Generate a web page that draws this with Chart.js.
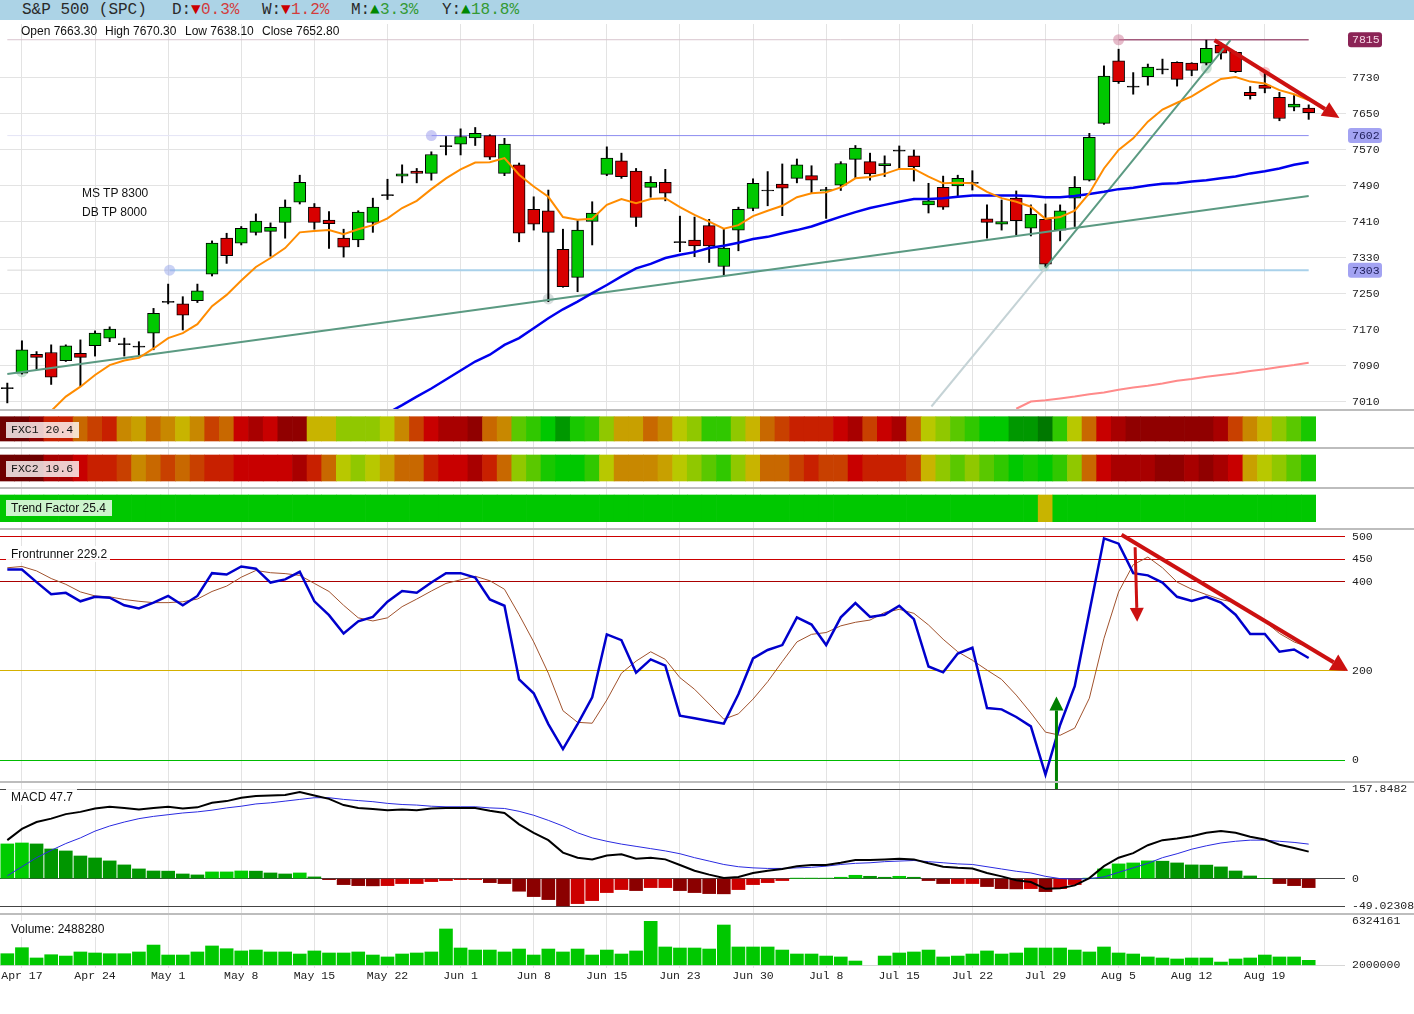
<!DOCTYPE html>
<html>
<head>
<meta charset="utf-8">
<script src="https://cdn.jsdelivr.net/npm/chart.js@4.4.1/dist/chart.umd.min.js"></script>
<style>
  body { margin: 0; width: 1414px; height: 1014px; background: #fff; position: relative; overflow: hidden;
         font-family: 'Liberation Sans', Arial, sans-serif; }
  canvas { position: absolute; left: 0; display: block; }
  .ov { position: absolute; z-index: 3; white-space: pre; }
  .mono { font-family: 'Liberation Mono', 'DejaVu Sans Mono', monospace; }
  #hdr { position: absolute; left: 0; top: 0; width: 1414px; height: 20px; background: #acd3e6; z-index: 3; }
  #hdr span { position: absolute; top: 0; line-height: 20px; font-size: 16px; color: #2a2a2a; }
  #hdr .dn { color: #cc0000; }
  #hdr .dnv { color: #d23c3c; }
  #hdr .up { color: #008800; }
  #hdr .upv { color: #339933; }
  .sep { position: absolute; left: 0; width: 1414px; height: 2px; background: #bdbdbd; z-index: 3; }
  .txt { font-size: 12px; color: #111; line-height: 14px; }
  .box { font-size: 12px; line-height: 16px; height: 16px; padding-left: 5px; color: #111; }
</style>
</head>
<body>

<div id="hdr" class="mono">
  <span style="left:22px">S&amp;P 500 (SPC)</span>
  <span style="left:172px">D:</span><span class="dn" style="left:191px">▼</span><span class="dnv" style="left:201px">0.3%</span>
  <span style="left:262px">W:</span><span class="dn" style="left:281px">▼</span><span class="dnv" style="left:291px">1.2%</span>
  <span style="left:351px">M:</span><span class="up" style="left:370px">▲</span><span class="upv" style="left:380px">3.3%</span>
  <span style="left:442px">Y:</span><span class="up" style="left:461px">▲</span><span class="upv" style="left:471px">18.8%</span>
</div>

<div class="ov txt" style="left:21px;top:24px">Open 7663.30</div>
<div class="ov txt" style="left:105px;top:24px">High 7670.30</div>
<div class="ov txt" style="left:185px;top:24px">Low 7638.10</div>
<div class="ov txt" style="left:262px;top:24px">Close 7652.80</div>
<div class="ov txt" style="left:82px;top:186px">MS TP 8300</div>
<div class="ov txt" style="left:82px;top:205px">DB TP 8000</div>

<div class="sep" style="top:409px"></div>
<div class="sep" style="top:447px"></div>
<div class="sep" style="top:487px"></div>
<div class="sep" style="top:528px"></div>
<div class="sep" style="top:781px"></div>
<div class="sep" style="top:913px"></div>

<div class="ov box mono" style="left:6px;top:422px;width:68px;font-size:11.5px;background:rgba(255,255,255,0.8)">FXC1 20.4</div>
<div class="ov box mono" style="left:6px;top:461px;width:68px;font-size:11.5px;background:rgba(255,255,255,0.8)">FXC2 19.6</div>
<div class="ov box" style="left:6px;top:500px;width:101px;background:rgba(255,255,255,0.8)">Trend Factor 25.4</div>
<div class="ov box" style="left:6px;top:546px;width:99px;background:rgba(255,255,255,0.92)">Frontrunner 229.2</div>
<div class="ov box" style="left:6px;top:789px;width:66px;background:rgba(255,255,255,0.92)">MACD 47.7</div>
<div class="ov box" style="left:6px;top:921px;width:101px;background:rgba(255,255,255,0.92)">Volume: 2488280</div>

<canvas id="cPrice" width="1414" height="386" style="top:24px"></canvas>
<canvas id="cStrip" width="1414" height="118" style="top:410px"></canvas>
<canvas id="cFr" width="1414" height="264" style="top:528px"></canvas>
<canvas id="cMacd" width="1414" height="131" style="top:782px"></canvas>
<canvas id="cVol" width="1414" height="77" style="top:913px"></canvas>

<script>
// ---- data (one entry per trading day) ----
const opens = [7041,7074,7116,7120,7102,7118,7135,7152,7138,7133,
  7163,7233,7228,7235,7294,7374,7363,7387,7389,7409,
  7454,7443,7414,7374,7370,7409,7470,7512,7523,7518,
  7579,7583,7597,7602,7518,7537,7438,7435,7349,7287,
  7411,7516,7546,7523,7487,7498,7365,7370,7402,7311,
  7392,7440,7480,7494,7507,7513,7479,7492,7549,7544,
  7535,7568,7557,7448,7487,7490,7497,7417,7405,7463,
  7396,7416,7392,7463,7503,7629,7768,7711,7733,7749,
  7765,7763,7763,7803,7787,7698,7714,7687,7665,7663.3];
const highs = [7052,7146,7122,7137,7137,7148,7168,7177,7152,7144,
  7218,7272,7244,7272,7368,7385,7400,7428,7408,7459,
  7514,7451,7433,7394,7435,7463,7505,7537,7529,7566,
  7600,7617,7620,7604,7596,7541,7466,7481,7394,7413,
  7455,7577,7563,7529,7511,7527,7423,7421,7416,7394,
  7443,7506,7522,7539,7550,7535,7487,7544,7580,7563,
  7557,7579,7570,7496,7512,7514,7524,7448,7459,7479,
  7448,7450,7448,7511,7607,7757,7794,7742,7761,7772,
  7766,7764,7814,7808,7789,7711,7742,7698,7691,7670.3];
const lows = [7008,7072,7083,7049,7100,7044,7112,7144,7112,7112,
  7126,7228,7170,7231,7290,7318,7359,7381,7334,7374,
  7450,7394,7351,7332,7355,7387,7460,7497,7497,7503,
  7559,7559,7580,7549,7513,7366,7392,7233,7265,7255,
  7359,7513,7507,7400,7465,7457,7344,7333,7320,7292,
  7346,7435,7446,7424,7497,7475,7418,7480,7507,7503,
  7511,7529,7501,7430,7438,7468,7481,7374,7392,7381,
  7379,7311,7368,7400,7501,7627,7718,7694,7714,7739,
  7712,7735,7759,7772,7742,7683,7697,7635,7657,7638.1];
const closes = [7041,7126,7109,7065,7135,7109,7163,7172,7139,7133,
  7207,7232,7203,7257,7363,7335,7396,7412,7398,7443,
  7498,7409,7406,7354,7432,7443,7469,7517,7518,7560,
  7578,7600,7607,7554,7583,7385,7405,7387,7266,7392,
  7430,7552,7511,7420,7498,7474,7365,7357,7357,7352,
  7438,7496,7480,7485,7537,7503,7482,7540,7574,7517,
  7540,7569,7533,7457,7443,7507,7497,7409,7411,7413,
  7427,7316,7435,7487,7598,7734,7722,7711,7754,7749,
  7727,7747,7796,7785,7744,7691,7707,7640,7672,7652.8];
const ema = [null,null,null,6990,7022,7044,7070,7092,7102,7108,
  7129,7152,7163,7183,7223,7248,7280,7310,7330,7352,
  7387,7390,7392,7383,7394,7403,7418,7441,7457,7483,
  7507,7527,7542,7543,7552,7515,7489,7466,7421,7415,
  7417,7448,7461,7452,7461,7463,7443,7426,7411,7395,
  7403,7423,7435,7446,7465,7474,7476,7487,7507,7510,
  7517,7528,7528,7511,7496,7497,7496,7477,7463,7455,
  7444,7417,7421,7435,7474,7529,7570,7596,7633,7660,
  7675,7689,7709,7728,7732,7722,7718,7703,7694,7681];
const sma50 = [null,null,null,null,null,null,null,null,null,null,
  null,null,null,null,null,null,null,null,null,null,
  null,null,null,null,null,null,6985,7003,7022,7040,
  7060,7080,7100,7115,7137,7152,7174,7196,7216,7233,
  7252,7270,7289,7307,7317,7330,7337,7343,7352,7357,
  7364,7372,7377,7385,7392,7400,7411,7422,7432,7441,
  7448,7455,7461,7461,7463,7466,7469,7469,7469,7469,
  7468,7465,7465,7468,7472,7477,7483,7486,7491,7495,
  7496,7500,7503,7507,7511,7518,7523,7529,7537,7543];
const sma200 = [null,null,null,null,null,null,null,null,null,null,
  null,null,null,null,null,null,null,null,null,null,
  null,null,null,null,null,null,null,null,null,null,
  null,null,null,null,null,null,null,null,null,null,
  null,null,null,null,null,null,null,null,null,null,
  null,null,null,null,null,null,null,null,null,null,
  null,null,null,null,null,null,null,null,null,6995,
  7011,7014,7018,7022,7027,7031,7037,7042,7046,7051,
  7057,7061,7066,7070,7074,7079,7083,7088,7092,7097];
const trendLine = [[0, 7072], [89, 7468]];
const riseLine = [[63.2, 7000], [71, 7308], [83.65, 7814]];
const priceLevels = [7815, 7602, 7303];
const levelFrom = [76, 29, 11.1];
const pivotX = [1, 11.1, 29, 37, 70.9, 76, 82, 86];
const pivotY = [7077, 7303, 7602, 7239, 7312, 7815, 7752, 7743];
const priceTicks = [7010, 7090, 7170, 7250, 7330, 7410, 7490, 7570, 7650, 7730];
const priceArrow = [82.56, 7814, 91.1, 7641];

const fxc1 = [0,0,1,4,4,6,5,4,7,8, 6,7,9,7,5,6,3,2,3,1, 1,9,9,11,11,11,10,7,5,3,
  2,2,1,6,7,12,13,15,16,14, 13,11,8,8,6,7,10,11,13,13, 11,9,6,5,4,4,4,3,2,5,
  3,2,6,10,11,12,13,15,15,16, 16,17,13,10,6,3,2,1,1,1, 1,1,1,2,5,7,9,11,12,14];
const fxc2 = [0,0,0,2,2,3,4,4,5,7, 6,5,6,5,4,4,3,3,3,3, 2,4,6,10,11,10,8,6,6,4,
  3,3,2,4,6,11,12,14,15,15, 13,10,7,7,7,8,10,11,12,13, 11,9,6,6,5,4,5,5,3,4,
  4,4,5,9,11,12,11,12,13,15, 14,15,13,11,6,3,2,2,2,1, 1,2,1,2,3,8,10,11,12,14];
const trendF = [15,15,15,15,15,15,15,15,15,15, 15,15,15,15,15,15,15,15,15,15, 15,15,15,15,15,15,15,15,15,15,
  15,15,15,15,15,15,15,15,15,15, 15,15,15,15,15,15,15,15,15,15, 15,15,15,15,15,15,15,15,15,15,
  15,15,15,15,15,15,15,15,15,15, 15,9,15,15,15,15,15,15,15,15, 15,15,15,15,15,15,15,15,15,15];

const frFast = [427,427,399,372,375,356,366,364,347,340, 353,368,347,368,419,416,434,429,398,405,
  422,356,325,284,311,321,355,379,375,398, 419,419,409,360,346,181,150,81,25,81,
  141,282,269,196,226,212,100,94,88,82, 148,228,247,258,320,304,258,320,352,321,
  326,346,316,210,197,239,252,117,114,97, 76,-32,79,166,332,497,485,419,414,398,
  366,357,366,353,326,283,283,243,248,229];
const frSlow = [431,434,424,407,394,377,368,366,360,356, 353,353,355,361,378,390,410,425,420,418,
  414,396,378,347,319,312,319,344,361,379, 396,404,412,402,383,326,265,195,111,85,
  83,135,195,222,243,226,185,159,126,92, 104,137,176,221,265,282,286,301,309,314,
  331,338,329,303,271,243,224,202,181,146, 106,63,56,72,139,273,377,438,455,431,
  399,383,371,360,353,332,311,284,265,253];
const frTicks = [0, 200, 400, 450, 500];
const frArrows = [[76.2, 505, 91.7, 200], [77.13, 477, 77.27, 310], [71.75, -66, 71.75, 143]];

const macdLine = [68,88,100,106,114,118,124,127,125,122, 125,127,124,126,134,137,143,146,147,148,
  153,147,141,130,125,123,121,122,121,124, 125,125,125,120,116,96,81,68,46,37,
  34,41,43,35,37,34,24,14,7,1, 3,10,14,17,22,24,24,28,33,33,
  34,35,34,27,21,19,18,10,4,-3, -6,-18,-17,-12,1,22,37,45,59,68,
  71,75,81,84,81,74,69,60,54,47.7];
const macdSignal = [5,21,37,50,62,72,84,93,100,106, 110,113,116,118,121,125,128,132,134,137,
  140,143,143,140,138,136,133,131,130,128, 127,127,127,125,124,119,112,103,93,81,
  72,66,61,57,53,49,44,37,31,25, 21,19,18,18,19,20,22,25,27,28,
  30,31,32,30,28,26,25,21,17,13, 10,4,0,-1,0,3,11,19,27,37,
  44,52,58,63,66,68,68,66,64,61];
const macdHist = [61.3,63,61.3,52.4,48.9,40,36.5,31.3,24.2,17.1, 13.5,13.2,8.2,6.5,11.8,11.8,13.5,13.2,10,8.2,
  10,3,-1.8,-10.6,-12.4,-12.8,-12.4,-8.8,-8.8,-5.3, -3.5,-1.8,-1.8,-7.1,-8.8,-22.3,-31.8,-37.1,-48.2,-44.2,
  -38.9,-24.7,-19.4,-21.2,-15.9,-15.9,-21.2,-24.7,-26.5,-26.9, -19.4,-10.6,-7.1,-3.5,0.5,0.5,0.6,2.4,5.9,4.1,
  2.4,4.1,2.4,-3.5,-8.8,-8.8,-8.8,-14.1,-17.7,-18.2, -17.7,-23,-17.7,-10.6,0.3,17.1,26,27.7,31.3,30.8,
  27.7,24.2,23.9,20.7,13.5,4.7,0,-8.8,-12.4,-15.9];
const macdTicks = [-49.02308, 0, 157.8482];

const volume = [3140000,3730000,2720000,3040000,2910000,3310000,3210000,3140000,3140000,3310000,
  3990000,3010000,3010000,3310000,3900000,3630000,3410000,3500000,3310000,3310000,
  3110000,3410000,3210000,3210000,3310000,3010000,2820000,3110000,3210000,3310000,
  5570000,3700000,3500000,3500000,3310000,3600000,3010000,3600000,3310000,3600000,
  3010000,3500000,3110000,3410000,6324161,3800000,3700000,3700000,3600000,5960000,
  3800000,3800000,3800000,3500000,3110000,3110000,2910000,2820000,2420000,null,
  2910000,3210000,3310000,3500000,2820000,2910000,3110000,3410000,3110000,3210000,
  3700000,3700000,3700000,3500000,3310000,3800000,3210000,3110000,2820000,2720000,
  2620000,2720000,2720000,2320000,2620000,2720000,3010000,2820000,2820000,2488280];
const volTicks = [2000000, 6324161];

const dateLabels = ['Apr 17','Apr 24','May 1','May 8','May 15','May 22','Jun 1','Jun 8','Jun 15',
  'Jun 23','Jun 30','Jul 8','Jul 15','Jul 22','Jul 29','Aug 5','Aug 12','Aug 19'];
const gridIdx = [1,6,11,16,21,26,31,36,41,46,51,56,61,66,71,76,81,86];

// ---- styles ----
const heatColors = ['#6e0000','#900000','#a80000','#c80000','#c82000','#c84000','#c86800','#c88800',
  '#c8a000','#c8b400','#b8c800','#90c800','#5ac800','#30c800','#18c800','#00c800','#009800','#007800'];
const levelFaint = ['#d8c4ce', '#e4e4f6', '#d9d9d9'];
const levelMain = ['#a25a7c', '#8c8cf0', '#a9d1ea'];
const levelWidth = [1.5, 1, 2];
const badgeFill = ['#8b2456', '#a3a3f2', '#a3a3f2'];
const badgeText = ['#f6d6e4', '#1e1e5a', '#1e1e5a'];
const pivotColor = ['rgba(150,200,170,0.5)','rgba(150,165,235,0.5)','rgba(150,150,235,0.5)','rgba(175,190,190,0.5)',
  'rgba(150,200,170,0.5)','rgba(205,120,150,0.5)','rgba(150,200,170,0.5)','rgba(240,140,150,0.5)'];
const frLineColor = { 0: '#00bb00', 200: '#d4b000', 400: '#aa0000', 450: '#cc0000', 500: '#cc0000' };

Chart.defaults.font.family = "'Liberation Sans', Arial, sans-serif";
Chart.defaults.animation = false;
Chart.defaults.responsive = false;
Chart.defaults.layout.autoPadding = false;
Chart.defaults.layout.padding = 0;
Chart.defaults.plugins.legend.display = false;
Chart.defaults.plugins.tooltip.enabled = false;
Chart.defaults.elements.point.radius = 0;
Chart.defaults.elements.line.tension = 0;

const AXIS_FONT = { family: "'Liberation Mono', 'DejaVu Sans Mono', monospace", size: 11.5 };
const pts = arr => arr.map((v, i) => ({ x: i, y: v }));

function xAxis(withLabels) {
  return {
    type: 'linear', min: -0.5, max: 89.5, offset: false, bounds: 'data',
    afterBuildTicks: s => { s.ticks = gridIdx.map(v => ({ value: v })); },
    afterFit: s => { s.paddingLeft = 0; s.paddingRight = 0; s.height = withLabels ? 22 : 0; },
    grid: { color: '#e3e3e3', offset: false, drawTicks: false },
    border: { display: false },
    ticks: { display: withLabels, autoSkip: false, maxRotation: 0, padding: 1, color: '#222', font: AXIS_FONT,
      callback: v => dateLabels[gridIdx.indexOf(v)] }
  };
}

function yAxis(min, max, tickVals, gridColor, tickLen) {
  return {
    type: 'linear', position: 'right', min: min, max: max, bounds: 'data',
    afterBuildTicks: s => { s.ticks = tickVals.map(v => ({ value: v })); },
    afterFit: s => { s.width = 98; s.paddingTop = 0; s.paddingBottom = 0; },
    border: { display: false },
    grid: { color: gridColor, tickLength: tickLen, drawTicks: true },
    ticks: { padding: 36 - tickLen, color: '#222', font: AXIS_FONT, autoSkip: false, callback: v => String(v) }
  };
}

function arrowPlugin(list, style) {
  return {
    id: 'arrows',
    afterDatasetsDraw(chart) {
      const { ctx, scales: { x, y } } = chart;
      list.forEach((a, k) => {
        const st = style[k];
        const x0 = x.getPixelForValue(a[0]), y0 = y.getPixelForValue(a[1]);
        const x1 = x.getPixelForValue(a[2]), y1 = y.getPixelForValue(a[3]);
        const ang = Math.atan2(y1 - y0, x1 - x0);
        const bx = x1 - st.head * Math.cos(ang), by = y1 - st.head * Math.sin(ang);
        ctx.save();
        ctx.strokeStyle = st.color; ctx.fillStyle = st.color; ctx.lineWidth = st.width;
        ctx.beginPath(); ctx.moveTo(x0, y0); ctx.lineTo(bx, by); ctx.stroke();
        ctx.beginPath(); ctx.moveTo(x1, y1);
        ctx.lineTo(bx + st.half * Math.sin(ang), by - st.half * Math.cos(ang));
        ctx.lineTo(bx - st.half * Math.sin(ang), by + st.half * Math.cos(ang));
        ctx.closePath(); ctx.fill();
        ctx.restore();
      });
    }
  };
}

// price badges on the right axis
const badgePlugin = {
  id: 'badges',
  afterDraw(chart) {
    const { ctx, scales: { y }, chartArea } = chart;
    ctx.save();
    ctx.font = "11.5px 'Liberation Mono', 'DejaVu Sans Mono', monospace";
    ctx.textBaseline = 'middle';
    priceLevels.forEach((v, k) => {
      const py = y.getPixelForValue(v);
      const bx = chartArea.right + 32, w = 34, h = 15;
      ctx.fillStyle = badgeFill[k];
      ctx.beginPath();
      ctx.roundRect(bx, py - h / 2, w, h, 3);
      ctx.fill();
      ctx.fillStyle = badgeText[k];
      ctx.fillText(String(v), chartArea.right + 36, py + 0.5);
    });
    ctx.restore();
  }
};

// ---- price panel ----
const isDoji = i => Math.abs(closes[i] - opens[i]) < 2.5;
const bodies = opens.map((o, i) => {
  const c = closes[i];
  if (isDoji(i)) { const m = (o + c) / 2; return { x: i, y: [m - 1.2, m + 1.2] }; }
  return { x: i, y: [Math.min(o, c), Math.max(o, c)] };
});
const bodyColors = opens.map((o, i) => isDoji(i) ? '#000' : (closes[i] > o ? '#00c800' : '#d80000'));
const wicks = opens.map((o, i) => ({ x: i, y: [lows[i], highs[i]] }));

const levelSets = [];
priceLevels.forEach((v, k) => {
  levelSets.push({ type: 'line', data: [{ x: 0, y: v }, { x: levelFrom[k], y: v }], borderColor: levelFaint[k], borderWidth: 1, order: 4 });
  levelSets.push({ type: 'line', data: [{ x: levelFrom[k], y: v }, { x: 89, y: v }], borderColor: levelMain[k], borderWidth: levelWidth[k], order: 4 });
});

new Chart(document.getElementById('cPrice'), {
  type: 'line',
  data: {
    datasets: [
      { data: pts(ema), borderColor: '#ff8c00', borderWidth: 2, order: 0 },
      { data: pts(sma50), borderColor: '#0000ee', borderWidth: 2.5, order: 0 },
      { data: trendLine.map(p => ({ x: p[0], y: p[1] })), borderColor: '#5b9a82', borderWidth: 2, order: 0 },
      { data: riseLine.slice(1).map(p => ({ x: p[0], y: p[1] })), borderColor: '#5b9a82', borderWidth: 2, order: 0 },
      { data: riseLine.slice(0, 2).map(p => ({ x: p[0], y: p[1] })), borderColor: '#c5d3d6', borderWidth: 2, order: 0 },
      { type: 'bar', data: bodies, backgroundColor: bodyColors, borderColor: '#000', borderWidth: 1,
        borderSkipped: false, barThickness: 12, grouped: false, order: 1 },
      { type: 'bar', data: wicks, backgroundColor: '#000', borderWidth: 0, barThickness: 1.3, grouped: false, order: 2 },
      { data: pts(sma200), borderColor: '#ff8a8a', borderWidth: 2, order: 3 },
      { data: pivotX.map((x, k) => ({ x: x, y: pivotY[k] })), showLine: false, pointRadius: 5.5,
        pointBackgroundColor: pivotColor, pointBorderWidth: 0, order: 3 },
      ...levelSets
    ]
  },
  options: {
    scales: {
      x: xAxis(false),
      y: yAxis(6992.2, 7850, priceTicks, '#e3e3e3', 30)
    }
  },
  plugins: [badgePlugin, arrowPlugin([priceArrow], [{ color: '#cc1111', width: 4, head: 17, half: 8 }])]
});

// ---- heat strips ----
const stripSet = (vals, lo, hi) => ({
  data: vals.map((v, i) => ({ x: i, y: [lo, hi] })),
  backgroundColor: vals.map(v => heatColors[v]),
  borderWidth: 0, barPercentage: 1, categoryPercentage: 1, grouped: false
});
new Chart(document.getElementById('cStrip'), {
  type: 'bar',
  data: { datasets: [stripSet(fxc1, 6.7, 31), stripSet(fxc2, 45, 71), stripSet(trendF, 85, 111.7)] },
  options: {
    scales: {
      x: xAxis(false),
      y: { type: 'linear', position: 'right', min: 0, max: 118, reverse: true, bounds: 'data',
        grid: { display: false }, ticks: { display: false }, border: { display: false },
        afterFit: s => { s.width = 98; s.paddingTop = 0; s.paddingBottom = 0; } }
    }
  }
});

// ---- frontrunner ----
new Chart(document.getElementById('cFr'), {
  type: 'line',
  data: {
    datasets: [
      { data: pts(frFast), borderColor: '#0000cc', borderWidth: 2.5 },
      { data: pts(frSlow), borderColor: '#a0522d', borderWidth: 1 }
    ]
  },
  options: {
    scales: {
      x: xAxis(false),
      y: yAxis(-71, 520.1, frTicks, ctx => frLineColor[ctx.tick ? ctx.tick.value : 0] || '#ccc', 29)
    }
  },
  plugins: [arrowPlugin(frArrows, [
    { color: '#cc1111', width: 4, head: 17, half: 9 },
    { color: '#cc1111', width: 3, head: 14, half: 7 },
    { color: '#008000', width: 3, head: 14, half: 7 }
  ])]
});

// ---- MACD ----
const histColors = macdHist.map((v, i) => {
  const prev = i ? macdHist[i - 1] : v;
  if (v >= 0) return v >= prev ? '#00cc00' : '#009600';
  return v < prev ? '#8b0000' : '#cc0000';
});
new Chart(document.getElementById('cMacd'), {
  type: 'line',
  data: {
    datasets: [
      { data: pts(macdLine), borderColor: '#000', borderWidth: 2 },
      { data: pts(macdSignal), borderColor: '#2a2ae0', borderWidth: 1 },
      { type: 'bar', data: pts(macdHist), backgroundColor: histColors, borderWidth: 0, barThickness: 13, grouped: false }
    ]
  },
  options: {
    scales: {
      x: xAxis(false),
      y: yAxis(-60.8, 170.8, macdTicks, '#444', 29)
    }
  }
});

// ---- volume ----
new Chart(document.getElementById('cVol'), {
  type: 'bar',
  data: { datasets: [{ data: pts(volume), backgroundColor: '#00c800', borderWidth: 0, barThickness: 13, base: 2000000, grouped: false }] },
  options: {
    scales: {
      x: xAxis(true),
      y: yAxis(1734655, 7139835, volTicks, ctx => (ctx.tick && ctx.tick.value === 2000000) ? '#d6d6d6' : 'rgba(0,0,0,0)', 29)
    }
  }
});
</script>
</body>
</html>
